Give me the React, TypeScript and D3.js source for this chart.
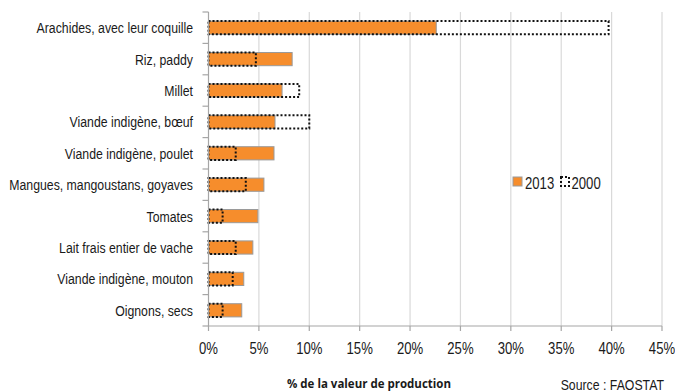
import React from "react";
import * as d3 from "d3";

// Principaux produits agricoles : part de la valeur de production (%)
const categories = [
  "Arachides, avec leur coquille",
  "Riz, paddy",
  "Millet",
  "Viande indigène, bœuf",
  "Viande indigène, poulet",
  "Mangues, mangoustans, goyaves",
  "Tomates",
  "Lait frais entier de vache",
  "Viande indigène, mouton",
  "Oignons, secs",
];
const values2013 = [22.6, 8.3, 7.3, 6.6, 6.5, 5.5, 4.9, 4.4, 3.5, 3.3];
const values2000 = [39.7, 4.7, 9.0, 10.0, 2.7, 3.7, 1.4, 2.7, 2.4, 1.4];
const xTicks = [0, 5, 10, 15, 20, 25, 30, 35, 40, 45];
const seriesLabels = ["2013", "2000"];
const axisTitle = "% de la valeur de production";
const sourceText = "Source : FAOSTAT";

const W = 675;
const H = 392;
const ORANGE = "#f68d2c";
const GRID = "#d9d9d9";
const AXIS = "#a6a6a6";
const FONT = "'Liberation Sans', Arial, sans-serif";
const NARROW = 0.82;

function NarrowText({ x, y, size, anchor = "start", children }: any) {
  return (
    <text
      transform={`translate(${x},${y}) scale(${NARROW},1)`}
      fontFamily={FONT}
      fontSize={size}
      fill="#1a1a1a"
      textAnchor={anchor}
    >
      {children}
    </text>
  );
}

export default function App() {
  const x = d3.scaleLinear().domain([0, 45]).range([208.5, 662]);
  const y = d3.scaleBand<string>().domain(categories).range([12, 326]).padding(0);
  const bw = y.bandwidth();
  const barH = bw * 0.42;
  const [top, bottom] = y.range();
  const boundaries = d3.range(categories.length + 1).map((i) => top + i * y.step());

  return (
    <svg
      width={W}
      height={H}
      style={{ position: "absolute", left: 0, top: 0, background: "#fff" }}
    >
      {/* vertical gridlines */}
      {xTicks.slice(1).map((t) => (
        <line key={"g" + t} x1={x(t)} x2={x(t)} y1={top} y2={bottom} stroke={GRID} strokeWidth={1.2} />
      ))}

      {/* bars */}
      {categories.map((c, i) => {
        const cy = (y(c) as number) + bw / 2;
        const y0 = cy - barH / 2;
        return (
          <g key={c}>
            <rect
              x={x(0)}
              y={y0}
              width={x(values2013[i]) - x(0)}
              height={barH}
              fill={ORANGE}
              stroke="#9a9a9a"
              strokeWidth={1}
            />
            <rect
              x={x(0)}
              y={y0}
              width={x(values2000[i]) - x(0)}
              height={barH}
              fill="none"
              stroke="#111"
              strokeWidth={2}
              strokeDasharray="2 2"
            />
          </g>
        );
      })}

      {/* y axis */}
      <line x1={x(0)} x2={x(0)} y1={top} y2={bottom} stroke={AXIS} strokeWidth={1.2} />
      {boundaries.map((b, i) => (
        <line key={"yt" + i} x1={x(0) - 6} x2={x(0)} y1={b} y2={b} stroke={AXIS} strokeWidth={1.2} />
      ))}
      {categories.map((c) => (
        <NarrowText key={"l" + c} x={193} y={(y(c) as number) + bw / 2 + 5.5} size={15} anchor="end">
          {c}
        </NarrowText>
      ))}

      {/* x axis */}
      <line x1={x(0)} x2={x(45)} y1={bottom} y2={bottom} stroke={AXIS} strokeWidth={1.2} />
      {xTicks.map((t) => (
        <g key={"xt" + t}>
          <line x1={x(t)} x2={x(t)} y1={bottom} y2={bottom + 5} stroke={AXIS} strokeWidth={1.2} />
          <NarrowText x={x(t)} y={354} size={16} anchor="middle">
            {t + "%"}
          </NarrowText>
        </g>
      ))}

      {/* legend */}
      <rect x={513} y={177} width={9} height={9} fill={ORANGE} stroke="#9a9a9a" strokeWidth={1} />
      <NarrowText x={525} y={188.5} size={16}>
        {seriesLabels[0]}
      </NarrowText>
      <rect x={561} y={177} width={8} height={9} fill="none" stroke="#111" strokeWidth={2} strokeDasharray="2 2" />
      <NarrowText x={571.5} y={188.5} size={16}>
        {seriesLabels[1]}
      </NarrowText>

      {/* titles */}
      <text x={287} y={388} fontFamily="'Open Sans', sans-serif" fontWeight="bold" fontSize={11.5} fill="#1a1a1a">
        {axisTitle}
      </text>
      <NarrowText x={664} y={390} size={15} anchor="end">
        {sourceText}
      </NarrowText>
    </svg>
  );
}
